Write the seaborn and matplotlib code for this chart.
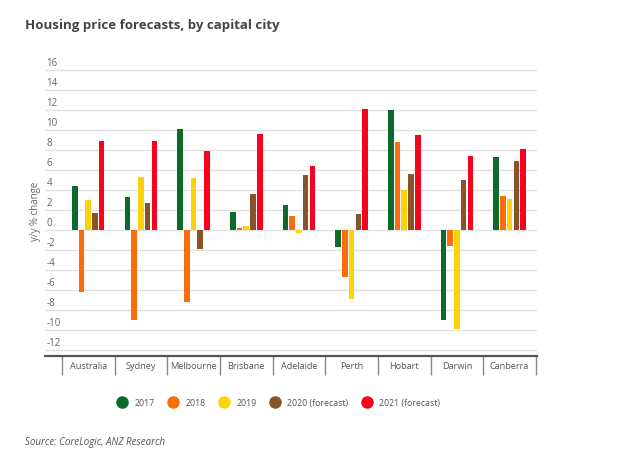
import matplotlib
matplotlib.use("Agg")
import matplotlib.pyplot as plt
import matplotlib.transforms as mtransforms
from matplotlib.lines import Line2D
import seaborn as sns
import pandas as pd

cities = ["Australia", "Sydney", "Melbourne", "Brisbane", "Adelaide",
          "Perth", "Hobart", "Darwin", "Canberra"]
years = ["2017", "2018", "2019", "2020 (forecast)", "2021 (forecast)"]
v2017 = [4.35, 3.25, 10.1, 1.8, 2.5, -1.75, 12.0, -9.05, 7.3]
v2018 = [-6.2, -9.0, -7.2, 0.2, 1.35, -4.75, 8.8, -1.65, 3.35]
v2019 = [3.0, 5.3, 5.15, 0.35, -0.3, -6.9, 4.0, -9.9, 3.1]
v2020 = [1.7, 2.65, -1.9, 3.55, 5.45, 1.6, 5.6, 5.0, 6.85]
v2021 = [8.9, 8.9, 7.85, 9.6, 6.35, 12.1, 9.45, 7.4, 8.05]
yticks = list(range(-12, 17, 2))
colors = ["#0b6b2b", "#fa6d0a", "#fed20b", "#8a5227", "#f7031d"]

rows = []
for yr, vals in zip(years, [v2017, v2018, v2019, v2020, v2021]):
    for c, v in zip(cities, vals):
        rows.append({"city": c, "year": yr, "value": v})
df = pd.DataFrame(rows)

sns.set_theme(style="white")
plt.rcParams["font.family"] = ["Open Sans", "DejaVu Sans"]

fig = plt.figure(figsize=(6.38, 4.69), dpi=100)
ax = fig.add_axes([45 / 638, 1 - 356 / 469, 492 / 638, (356 - 66.5) / 469])

sns.barplot(data=df, x="city", y="value", hue="year", order=cities,
            hue_order=years, palette=colors, saturation=1, width=0.64, gap=0.17,
            linewidth=0, legend=False, ax=ax, zorder=3)

ax.set_xlim(-0.82, 8.52)
ax.set_ylim(-12.6, 16.3)
ax.set_yticks(yticks)
ax.set_yticklabels([str(t) for t in yticks])
ax.grid(axis="y", color="#e2e2e2", linewidth=1, zorder=0)
ax.grid(axis="x", visible=False)
for s in ["left", "right", "top"]:
    ax.spines[s].set_visible(False)
ax.spines["bottom"].set_color("#555555")
ax.spines["bottom"].set_linewidth(1.6)
ax.spines["bottom"].set_zorder(5)

# y tick labels above gridlines, left aligned inside
ax.tick_params(axis="y", length=0, pad=-1, labelsize=7, labelcolor="#666666")
off = mtransforms.ScaledTranslation(0, 1 / 100, fig.dpi_scale_trans)
for lab in ax.get_yticklabels():
    lab.set_horizontalalignment("left")
    lab.set_verticalalignment("bottom")
    lab.set_transform(lab.get_transform() + off)

# x: boundary ticks + centered labels
ax.set_xticks([i - 0.5 for i in range(len(cities) + 1)])
ax.set_xticklabels([])
ax.set_xticks(range(len(cities)), minor=True)
ax.set_xticklabels(cities, minor=True)
ax.tick_params(axis="x", which="major", length=13.5, width=1, color="#888888",
               bottom=True, direction="out")
ax.tick_params(axis="x", which="minor", length=0, pad=4, labelsize=6.6,
               labelcolor="#555555", bottom=True)
ax.set_xlabel("")
ax.set_ylabel("y/y % change", fontsize=7, color="#666666")
ax.yaxis.set_label_coords(-0.008, 0.5)

fig.text(25 / 638, 1 - 26 / 469, "Housing price forecasts, by capital city",
         fontsize=9.5, fontweight="bold", color="#444444", va="center",
         family=["Liberation Sans Narrow", "Open Sans", "DejaVu Sans"])

handles = [Line2D([0], [0], marker="o", linestyle="", markersize=8,
                  markerfacecolor=c, markeredgecolor=c) for c in colors]
fig.legend(handles, years, loc="center", ncol=5, frameon=False,
           bbox_to_anchor=(279 / 638, 1 - 403 / 469), fontsize=6.3,
           labelcolor="#555555", handletextpad=0.9, columnspacing=1.6,
           handlelength=1.0)

fig.text(25 / 638, 1 - 442 / 469, "Source: CoreLogic, ANZ Research",
         fontsize=7, fontstyle="italic", color="#555555", va="center")

fig.savefig("out.png", dpi=100)
